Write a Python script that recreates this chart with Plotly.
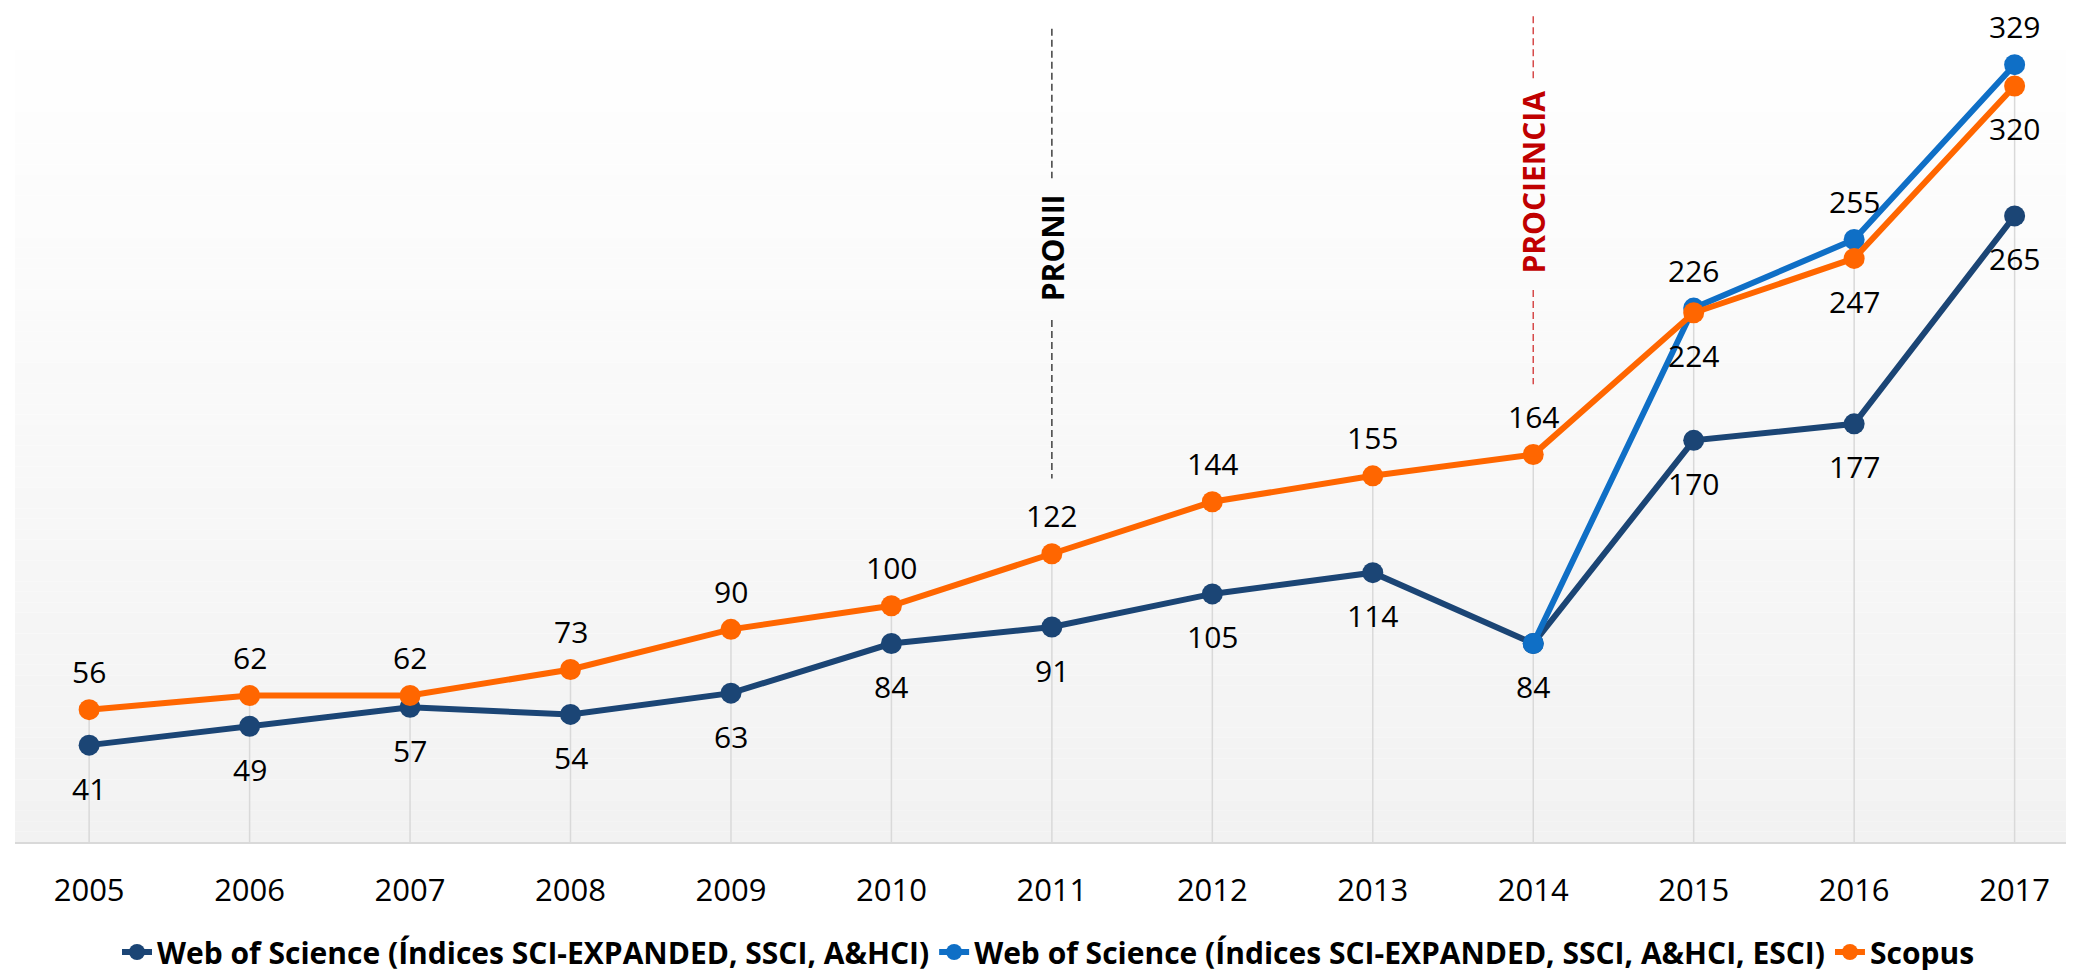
import plotly.graph_objects as go

# data
years = ["2005", "2006", "2007", "2008", "2009", "2010", "2011",
         "2012", "2013", "2014", "2015", "2016", "2017"]
wos_core = [41, 49, 57, 54, 63, 84, 91, 105, 114, 84, 170, 177, 265]
wos_esci = [None, None, None, None, None, None, None, None, None, 84, 226, 255, 329]
scopus = [56, 62, 62, 73, 90, 100, 122, 144, 155, 164, 224, 247, 320]

name_core = "Web of Science (Índices SCI-EXPANDED, SSCI, A&HCI)"
name_esci = "Web of Science (Índices SCI-EXPANDED, SSCI, A&HCI, ESCI)"
name_scopus = "Scopus"

# labels: which ones go above / below the point
pos_core = ["below"] * 13
pos_esci = [None] * 10 + ["above"] * 3
pos_scopus = ["above"] * 10 + ["below"] * 3

# year, label, text colour, line colour, upper dash segment, label centre, lower dash segment
# (vertical positions as fractions of the plot height)
events = [("2011", "PRONII", "#000000", "#404040", (0.975, 0.796), 0.713, (0.626, 0.436)),
          ("2014", "PROCIENCIA", "#c00000", "#d64a4a", (0.99, 0.914), 0.791, (0.662, 0.549))]

C_CORE = "#1b4575"
C_ESCI = "#0f6fc6"
C_SCOPUS = "#ff6600"
FONT = "Open Sans"

xs = list(range(len(years)))
fig = go.Figure()

# drop lines from highest point to the axis
drop_x, drop_y = [], []
for i in xs:
    top = max(v for v in (wos_core[i], wos_esci[i], scopus[i]) if v is not None)
    drop_x += [i, i, None]
    drop_y += [0, top, None]
fig.add_trace(go.Scatter(x=drop_x, y=drop_y, mode="lines",
                         line=dict(color="#d9d9d9", width=1.5),
                         showlegend=False, hoverinfo="skip"))

for name, vals, col in [(name_core, wos_core, C_CORE),
                        (name_esci, wos_esci, C_ESCI),
                        (name_scopus, scopus, C_SCOPUS)]:
    fig.add_trace(go.Scatter(x=xs, y=vals, name="<b>" + name + "</b>",
                             mode="lines+markers",
                             line=dict(color=col, width=6),
                             marker=dict(color=col, size=21)))

# gradient background of the plot area
n_bands = 80
for k in range(n_bands):
    t = k / (n_bands - 1)
    g = int(round(242 + (255 - 242) * t))
    fig.add_shape(type="rect", xref="paper", yref="paper",
                  x0=0, x1=1, y0=k / n_bands, y1=(k + 1) / n_bands,
                  fillcolor=f"rgb({g},{g},{g})", line=dict(width=0),
                  layer="below")

for yr, label, tcol, lcol, seg1, mid, seg2 in events:
    xi = years.index(yr)
    for y0, y1 in (seg1, seg2):
        fig.add_shape(type="line", xref="x", yref="paper", x0=xi, x1=xi,
                      y0=y0, y1=y1, line=dict(color=lcol, width=1.5, dash="7px,4px"))
    fig.add_annotation(x=xi, y=mid, xref="x", yref="paper",
                       xanchor="center", yanchor="middle",
                       text="<b>" + label + "</b>", showarrow=False,
                       textangle=-90,
                       font=dict(family=FONT, size=30, color=tcol))

for vals, pos in [(wos_core, pos_core), (wos_esci, pos_esci), (scopus, pos_scopus)]:
    for i, v, p in zip(xs, vals, pos):
        if v is None or p is None:
            continue
        fig.add_annotation(x=i, y=v, xref="x", yref="y", text=str(v), showarrow=False,
                           yshift=38 if p == "above" else -43,
                           font=dict(family=FONT, size=30, color="#000000"))

fig.update_layout(
    width=2074, height=970,
    margin=dict(l=7, r=0, t=0, b=128),
    paper_bgcolor="white", plot_bgcolor="white",
    showlegend=True,
    legend=dict(orientation="h", x=0.5, xanchor="center", y=-0.132, yanchor="middle",
                font=dict(family=FONT, size=30, color="#000000"),
                bgcolor="rgba(0,0,0,0)"),
)

fig.update_xaxes(range=[-0.462, 12.42], showgrid=False, zeroline=False,
                 tickmode="array", tickvals=xs, ticktext=years,
                 showline=True, linecolor="#d9d9d9", linewidth=2,
                 ticks="outside", ticklen=20, tickcolor="rgba(0,0,0,0)",
                 tickfont=dict(family=FONT, size=31, color="#000000"))
fig.update_yaxes(range=[0, 353], showgrid=False, zeroline=False,
                 showticklabels=False, showline=False)

fig.write_html("out.html")
